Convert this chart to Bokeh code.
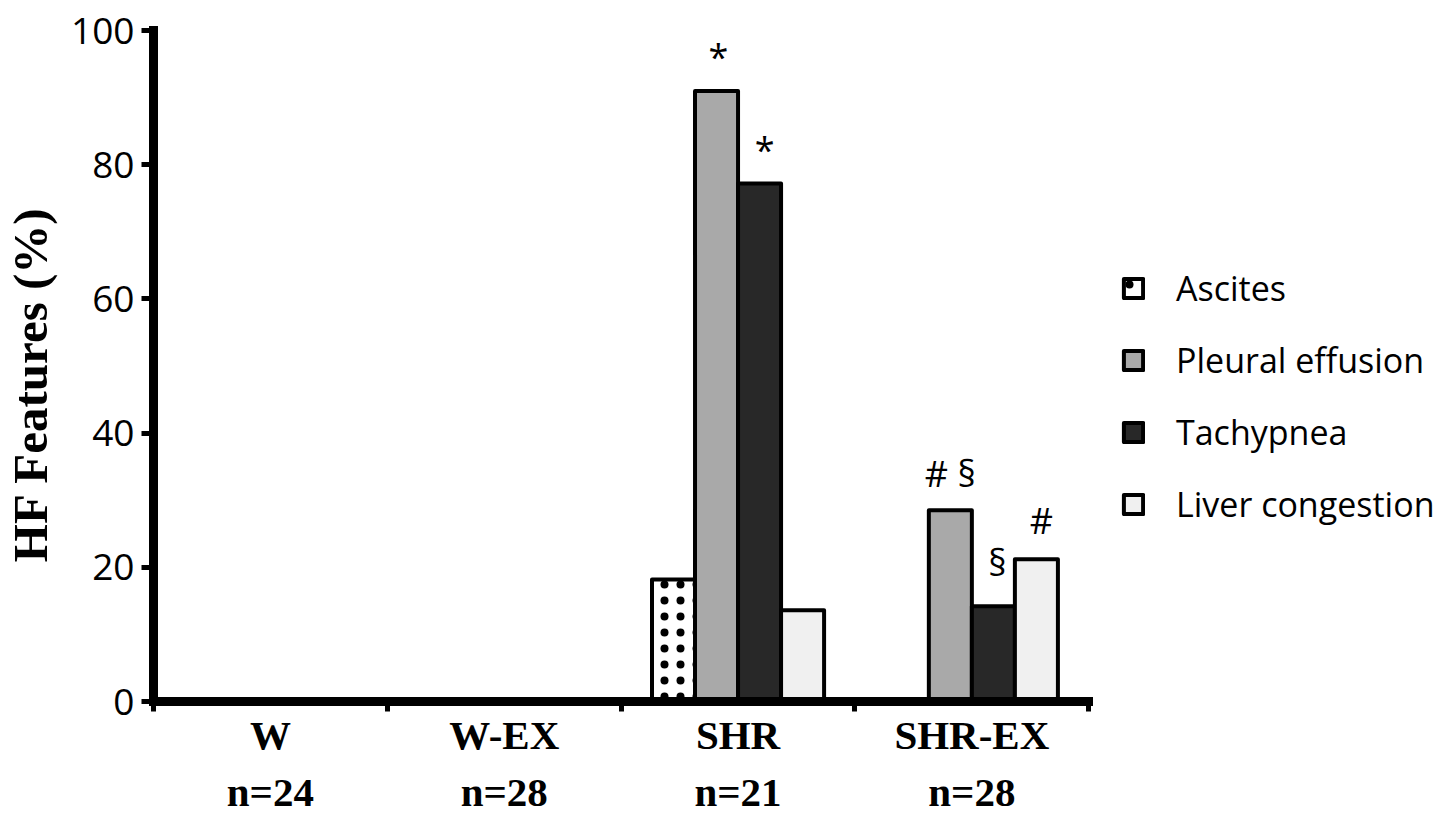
from bokeh.plotting import figure
from bokeh.models import Range1d, LinearAxis, FixedTicker, Legend, LegendItem, ColumnDataSource
from bokeh.core.properties import value
from bokeh.embed import file_html
from bokeh.resources import INLINE

# ---------------- data ----------------
groups = ["W", "W-EX", "SHR", "SHR-EX"]
group_n = ["n=24", "n=28", "n=21", "n=28"]
features = ["Ascites", "Pleural effusion", "Tachypnea", "Liver congestion"]
ascites = [0, 0, 18.2, 0]
pleural = [0, 0, 91.0, 28.5]
tachypnea = [0, 0, 77.2, 14.2]
liver = [0, 0, 13.6, 21.2]
y_ticks = [0, 20, 40, 60, 80, 100]

# significance marks: text, group index, feature index
mark_text = ["*", "*", "# §", "§", "#"]
mark_group = [2, 2, 3, 3, 3]
mark_feature = [1, 2, 1, 2, 3]

# ---------------- style / layout ----------------
W, H = 1442, 823
LEFT, TOP, RIGHT = 152, 30, 0
BOTTOM = H - 701
PX_PER_GROUP = 234.0
x_end = (W - LEFT - RIGHT) / PX_PER_GROUP
BAR_W = 0.184
fills = ["white", "#a9a9a9", "#282828", "#f0f0f0"]
hatches = ["dot", "blank", "blank", "blank"]
mark_dy = [34, 34, 37, 44, 39]   # px offsets above bar top
mark_dx = [2, 5, 0, 4, 5]
SANS = "Open Sans"
SERIF = "Liberation Serif"

p = figure(width=W, height=H, output_backend="svg", toolbar_location=None,
           x_range=Range1d(0, x_end), y_range=Range1d(0, 100),
           x_axis_type=None, y_axis_type=None,
           min_border_left=LEFT, min_border_right=RIGHT,
           min_border_top=TOP, min_border_bottom=BOTTOM)
p.outline_line_color = None
p.background_fill_color = "white"
p.border_fill_color = "white"

series = [ascites, pleural, tachypnea, liver]
renderers = []
for k, vals in enumerate(series):
    xs = [g + 0.5 + (k - 1.5) * BAR_W for g in range(len(groups))]
    src = ColumnDataSource(dict(x=xs, top=vals))
    r = p.vbar(x="x", top="top", bottom=0, width=BAR_W, source=src,
               fill_color=fills[k], line_color="black", line_width=4,
               line_join="round",
               hatch_pattern=hatches[k], hatch_color="black",
               hatch_scale=16, hatch_weight=2)
    renderers.append(r)

# significance marks
mx, my, mdx, mdy = [], [], [], []
for t, g, f, dx, dy in zip(mark_text, mark_group, mark_feature, mark_dx, mark_dy):
    mx.append(g + 0.5 + (f - 1.5) * BAR_W)
    my.append(series[f][g])
    mdx.append(dx)
    mdy.append(-dy)
msrc = ColumnDataSource(dict(x=mx, y=my, text=mark_text, dx=mdx, dy=mdy))
p.text(x="x", y="y", text="text", source=msrc, x_offset="dx", y_offset="dy",
       text_align="center", text_baseline="alphabetic",
       text_font=value(SANS), text_font_size="36px", text_color="black")

# y axis
yax = LinearAxis(ticker=FixedTicker(ticks=y_ticks),
                 axis_label="HF Features (%)\u00a0\u00a0\u00a0")
yax.axis_line_width = 9
yax.axis_line_cap = "square"
yax.major_tick_line_width = 5
yax.major_tick_out = 12
yax.major_tick_in = 0
yax.minor_tick_line_color = None
yax.major_label_text_font = SANS
yax.major_label_text_font_size = "37px"
yax.major_label_text_color = "black"
yax.major_label_standoff = 7
yax.axis_label_text_font = SERIF
yax.axis_label_text_font_style = "bold"
yax.axis_label_text_font_size = "49px"
yax.axis_label_text_color = "black"
yax.axis_label_standoff = 10
p.add_layout(yax, "left")

# x axis line with group-boundary ticks
xax = LinearAxis(ticker=FixedTicker(ticks=list(range(len(groups) + 1))), bounds=(0, len(groups)))
xax.axis_line_width = 9
xax.axis_line_cap = "square"
xax.major_tick_line_width = 5
xax.major_tick_out = 10
xax.major_tick_in = 0
xax.minor_tick_line_color = None
xax.major_label_overrides = {i: "" for i in range(len(groups) + 1)}
xax.major_label_text_font_size = "0px"
xax.major_label_standoff = 0
p.add_layout(xax, "below")

centers = [g + 0.5 for g in range(len(groups))]
for labels, standoff in ((groups, 0), (group_n, 8)):
    ax = LinearAxis(ticker=FixedTicker(ticks=centers))
    ax.major_label_overrides = {c: s for c, s in zip(centers, labels)}
    ax.axis_line_color = None
    ax.major_tick_line_color = None
    ax.minor_tick_line_color = None
    ax.major_tick_out = 0
    ax.major_tick_in = 0
    ax.major_label_standoff = standoff
    ax.major_label_text_font = SERIF
    ax.major_label_text_font_style = "bold"
    ax.major_label_text_font_size = "41px"
    ax.major_label_text_color = "black"
    p.add_layout(ax, "below")

legend = Legend(items=[LegendItem(label=f, renderers=[r]) for f, r in zip(features, renderers)],
                location=(968, 174), orientation="vertical")
legend.border_line_color = None
legend.background_fill_alpha = 0
legend.padding = 0
legend.margin = 0
legend.glyph_width = 24
legend.glyph_height = 24
legend.label_standoff = 31
legend.spacing = 26
legend.label_text_font = SANS
legend.label_text_font_size = "34px"
legend.label_text_color = "black"
p.add_layout(legend, "center")

open("out.html", "w").write(file_html(p, INLINE))
